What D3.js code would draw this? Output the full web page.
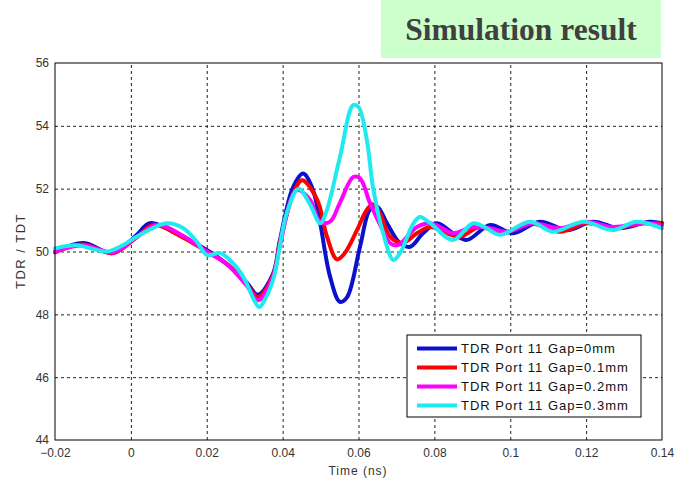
<!doctype html>
<html lang="en">
<head>
	<meta charset="utf-8">
	<title>Simulation result - TDR</title>
	<style>
html, body {
	margin: 0;
	padding: 0;
	background-color: #fff;
}
svg {
	display: block;
}
.axis text {
	font-family: 'Liberation Sans', Arial, sans-serif;
	font-size: 12px;
	fill: #333;
}
.grid line {
	stroke: #222;
	stroke-width: 1px;
	stroke-dasharray: 3,3;
}
.series {
	fill: none;
	stroke-width: 4px;
	stroke-linejoin: round;
	stroke-linecap: round;
}
	</style>
</head>
<body>
	<div id="container"></div>

	<script src="https://cdnjs.cloudflare.com/ajax/libs/d3/7.8.5/d3.min.js"></script>
	<script>
/* DATA */

var X_TICKS = [-0.02, 0, 0.02, 0.04, 0.06, 0.08, 0.1, 0.12, 0.14];
var X_TICK_LABELS = ['\u22120.02', '0', '0.02', '0.04', '0.06', '0.08', '0.1', '0.12', '0.14'];
var Y_TICKS = [44, 46, 48, 50, 52, 54, 56];
var Y_TICK_LABELS = ['44', '46', '48', '50', '52', '54', '56'];

var SERIES_NAMES = [
	'TDR Port 11 Gap=0mm',
	'TDR Port 11 Gap=0.1mm',
	'TDR Port 11 Gap=0.2mm',
	'TDR Port 11 Gap=0.3mm'
];

// [time (ns), TDR value]
var gap0 = [
	[-0.02, 49.98], [-0.0126, 50.27], [-0.0047, 49.95], [0.0015, 50.52], [0.005, 50.9],
	[0.0137, 50.46], [0.02, 50.05], [0.0253, 49.6], [0.0306, 49.0], [0.0335, 48.62],
	[0.0375, 49.3], [0.0393, 50.37], [0.0427, 52.03], [0.0454, 52.48], [0.048, 51.96],
	[0.0499, 50.9], [0.0525, 49.2], [0.0551, 48.4], [0.057, 48.55], [0.0604, 50.15],
	[0.063, 51.33], [0.0649, 51.43], [0.0675, 50.9], [0.0709, 50.27], [0.0736, 50.15],
	[0.077, 50.58], [0.0807, 50.9], [0.0849, 50.58], [0.0886, 50.37], [0.0947, 50.84],
	[0.1007, 50.58], [0.1078, 50.95], [0.115, 50.68], [0.1218, 50.95], [0.1289, 50.74],
	[0.1368, 50.95], [0.14, 50.9]
];

var gap01 = [
	[-0.02, 49.98], [-0.0126, 50.22], [-0.0047, 49.95], [0.0015, 50.45], [0.006, 50.85],
	[0.0137, 50.45], [0.02, 50.0], [0.0253, 49.6], [0.0306, 48.95], [0.0335, 48.55],
	[0.0375, 49.25], [0.0393, 50.3], [0.0427, 51.8], [0.0451, 52.27], [0.0491, 51.65],
	[0.0517, 50.47], [0.0543, 49.75], [0.0564, 49.95], [0.0596, 50.68], [0.0622, 51.33],
	[0.0638, 51.5], [0.0657, 51.2], [0.0683, 50.47], [0.0717, 50.27], [0.0754, 50.58],
	[0.0789, 50.78], [0.0833, 50.58], [0.0868, 50.47], [0.092, 50.78], [0.0981, 50.58],
	[0.1052, 50.9], [0.1131, 50.63], [0.1202, 50.9], [0.1271, 50.74], [0.135, 50.9],
	[0.14, 50.9]
];

var gap02 = [
	[-0.02, 50.0], [-0.0126, 50.2], [-0.0047, 49.97], [0.0015, 50.45], [0.007, 50.85],
	[0.0137, 50.5], [0.02, 50.0], [0.0253, 49.6], [0.0306, 48.9], [0.0335, 48.45],
	[0.0375, 49.2], [0.0393, 50.2], [0.0437, 51.96], [0.0472, 51.65], [0.0499, 50.95],
	[0.0525, 50.95], [0.0551, 51.55], [0.0586, 52.37], [0.0604, 52.33], [0.063, 51.55],
	[0.0657, 50.85], [0.0685, 50.25], [0.0705, 50.21], [0.0754, 50.78], [0.0789, 50.9],
	[0.0815, 50.78], [0.0849, 50.58], [0.0902, 50.78], [0.0947, 50.74], [0.0992, 50.63],
	[0.106, 50.9], [0.1131, 50.74], [0.1202, 50.95], [0.1271, 50.78], [0.135, 50.9],
	[0.14, 50.84]
];

var gap03 = [
	[-0.02, 50.1], [-0.0143, 50.2], [-0.0064, 50.0], [-0.0021, 50.2], [0.0015, 50.47],
	[0.0094, 50.9], [0.0137, 50.75], [0.0174, 50.31], [0.02, 49.89], [0.0235, 49.95],
	[0.0261, 49.73], [0.0296, 49.2], [0.0325, 48.45], [0.0338, 48.23], [0.035, 48.4],
	[0.0375, 49.1], [0.0411, 51.23], [0.0442, 52.0], [0.0472, 51.5], [0.0499, 50.9],
	[0.0516, 51.3], [0.0551, 53.0], [0.0586, 54.66], [0.06, 54.6], [0.0622, 53.55],
	[0.0638, 52.06], [0.0665, 50.58], [0.0692, 49.73], [0.0709, 49.94], [0.0745, 50.9],
	[0.0762, 51.1], [0.0789, 50.9], [0.0849, 50.37], [0.0902, 50.9], [0.0938, 50.74],
	[0.0973, 50.53], [0.1052, 50.95], [0.1113, 50.63], [0.1192, 50.95], [0.1271, 50.68],
	[0.1333, 50.95], [0.14, 50.74]
];

var SERIES_COLORS = ['#0a10cc', '#ff0000', '#ff00ff', '#20eaf0'];

(function _tdr(d3) {

	'use strict';

	/* CONST */

	var W = 694;
	var H = 482;
	var LEFT = 55;
	var RIGHT = 662;
	var TOP = 63;
	var BOTTOM = 440;

	var x = d3.scaleLinear().domain([-0.02, 0.14]).range([LEFT, RIGHT]);
	var y = d3.scaleLinear().domain([44, 56]).range([BOTTOM, TOP]);

	var series = [gap0, gap01, gap02, gap03];

	/* RENDER */

	var svg = d3.select('#container')
		.append('svg')
			.attr('width', W)
			.attr('height', H);

	// title box
	svg.append('rect')
		.attr('x', 381).attr('y', 0)
		.attr('width', 280).attr('height', 58)
		.attr('fill', '#ccffcc');
	svg.append('text')
		.attr('x', 521).attr('y', 40)
		.attr('text-anchor', 'middle')
		.attr('font-family', "'Liberation Serif', 'Times New Roman', serif")
		.attr('font-weight', 'bold')
		.attr('font-size', '31.5px')
		.attr('fill', '#404040')
		.text('Simulation result');

	// grid
	svg.append('g')
		.attr('class', 'grid')
		.attr('transform', 'translate(0,' + BOTTOM + ')')
		.call(d3.axisBottom(x).tickValues(X_TICKS.slice(1, -1)).tickSize(-(BOTTOM - TOP)).tickFormat(''))
		.call(function (g) { g.select('.domain').remove(); });
	svg.append('g')
		.attr('class', 'grid')
		.attr('transform', 'translate(' + LEFT + ',0)')
		.call(d3.axisLeft(y).tickValues(Y_TICKS.slice(1, -1)).tickSize(-(RIGHT - LEFT)).tickFormat(''))
		.call(function (g) { g.select('.domain').remove(); });

	// axes labels
	var xAxis = svg.append('g')
		.attr('class', 'axis')
		.attr('transform', 'translate(0,' + BOTTOM + ')')
		.call(d3.axisBottom(x).tickValues(X_TICKS).tickSize(0)
			.tickFormat(function (d, i) { return X_TICK_LABELS[i]; }));
	xAxis.select('.domain').remove();
	xAxis.selectAll('text').attr('y', 17).attr('dy', null);

	var yAxis = svg.append('g')
		.attr('class', 'axis')
		.attr('transform', 'translate(' + LEFT + ',0)')
		.call(d3.axisLeft(y).tickValues(Y_TICKS).tickSize(0)
			.tickFormat(function (d, i) { return Y_TICK_LABELS[i]; }));
	yAxis.select('.domain').remove();
	yAxis.selectAll('text').attr('x', -6);

	// series
	var line = d3.line()
		.x(function (d) { return x(d[0]); })
		.y(function (d) { return y(d[1]); })
		.curve(d3.curveCatmullRom.alpha(0.5));

	svg.append('g')
		.selectAll('path')
		.data(series)
		.enter()
		.append('path')
			.attr('class', 'series')
			.attr('d', line)
			.attr('stroke', function (d, i) { return SERIES_COLORS[i]; });

	// frame
	svg.append('rect')
		.attr('x', LEFT).attr('y', TOP)
		.attr('width', RIGHT - LEFT).attr('height', BOTTOM - TOP)
		.attr('fill', 'none')
		.attr('stroke', '#000')
		.attr('stroke-width', 1);

	// axis titles
	svg.append('text')
		.attr('x', 358).attr('y', 475)
		.attr('text-anchor', 'middle')
		.attr('font-family', "'Liberation Sans', Arial, sans-serif")
		.attr('font-size', '12px')
		.attr('letter-spacing', '1px')
		.attr('fill', '#333')
		.text('Time (ns)');
	svg.append('text')
		.attr('transform', 'translate(25,251) rotate(-90)')
		.attr('text-anchor', 'middle')
		.attr('font-family', "'Liberation Sans', Arial, sans-serif")
		.attr('font-size', '13px')
		.attr('letter-spacing', '1.5px')
		.attr('fill', '#333')
		.text('TDR / TDT');

	// legend
	var legend = svg.append('g').attr('transform', 'translate(407,335)');
	legend.append('rect')
		.attr('width', 234).attr('height', 82)
		.attr('fill', '#fff')
		.attr('stroke', '#000')
		.attr('stroke-width', 1);
	var item = legend.selectAll('.item')
		.data(SERIES_NAMES)
		.enter()
		.append('g')
			.attr('class', 'item')
			.attr('transform', function (d, i) { return 'translate(0,' + (13.5 + i * 19) + ')'; });
	item.append('line')
		.attr('x1', 10).attr('x2', 50)
		.attr('stroke', function (d, i) { return SERIES_COLORS[i]; })
		.attr('stroke-width', 4);
	item.append('text')
		.attr('x', 54).attr('y', 4.5)
		.attr('font-family', "'Liberation Sans', Arial, sans-serif")
		.attr('font-size', '13px')
		.attr('letter-spacing', '1px')
		.attr('fill', '#111')
		.text(function (d) { return d; });

})(window.d3);
	</script>
</body>
</html>
